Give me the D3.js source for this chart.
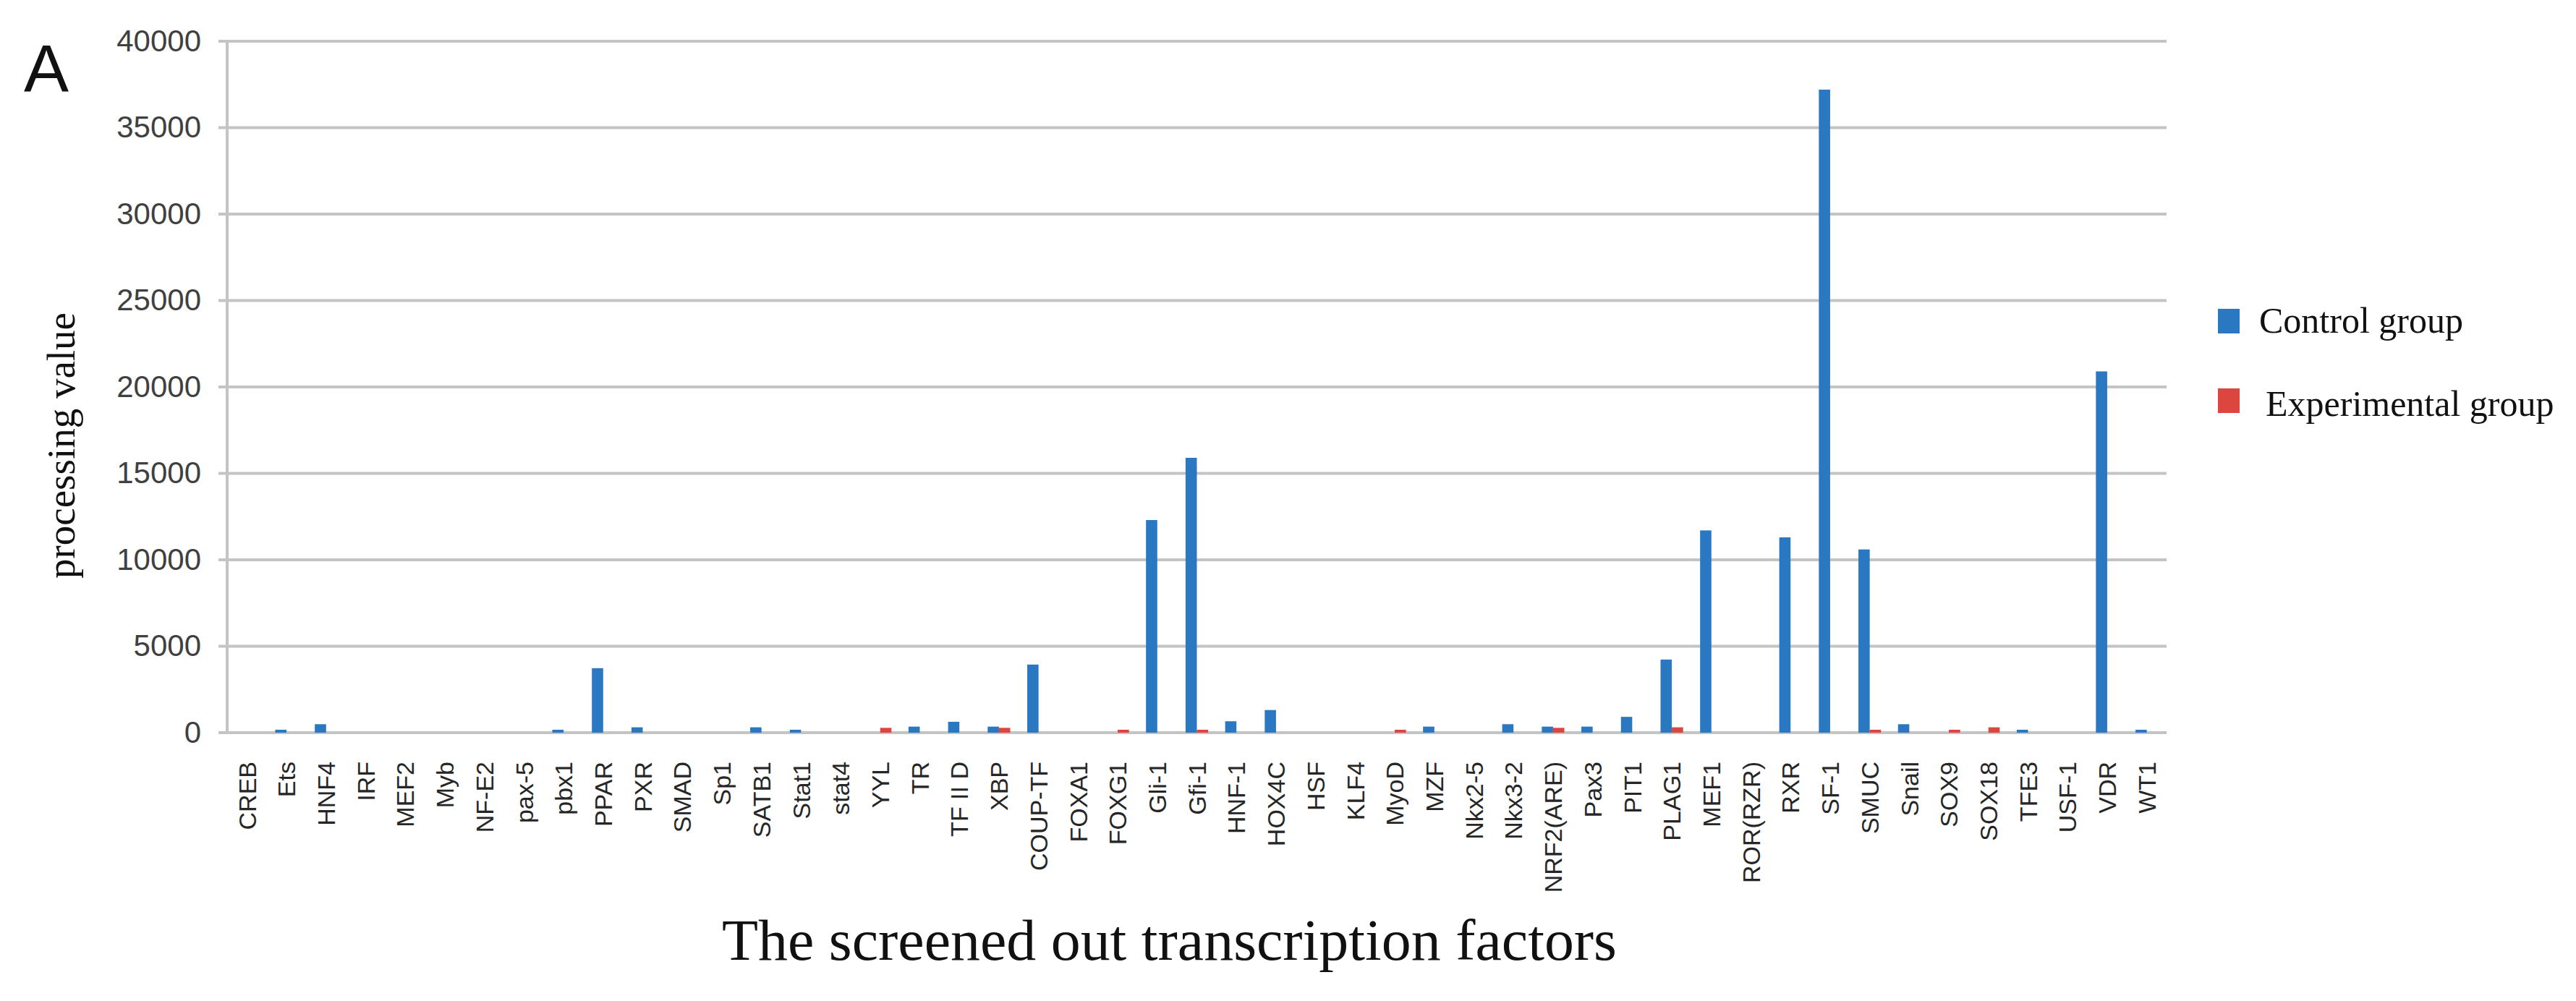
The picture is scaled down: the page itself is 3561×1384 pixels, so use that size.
<!DOCTYPE html>
<html lang="en">
<head>
    <meta charset="UTF-8">
    <title>Screened out transcription factors</title>
    <script src="https://d3js.org/d3.v7.min.js"></script>
    <style>
        body { margin: 0; background: #fff; }
    </style>
</head>
<body>
    <div id="chart"></div>

    <script>
        // Data
        const categories = ["CREB", "Ets", "HNF4", "IRF", "MEF2", "Myb", "NF-E2", "pax-5", "pbx1", "PPAR",
            "PXR", "SMAD", "Sp1", "SATB1", "Stat1", "stat4", "YYL", "TR", "TF II D", "XBP",
            "COUP-TF", "FOXA1", "FOXG1", "Gli-1", "Gfi-1", "HNF-1", "HOX4C", "HSF", "KLF4", "MyoD",
            "MZF", "Nkx2-5", "Nkx3-2", "NRF2(ARE)", "Pax3", "PIT1", "PLAG1", "MEF1", "ROR(RZR)", "RXR",
            "SF-1", "SMUC", "Snail", "SOX9", "SOX18", "TFE3", "USF-1", "VDR", "WT1"];

        const control = [0, 170, 490, 0, 0, 0, 0, 0, 170, 3730,
            310, 0, 0, 310, 170, 0, 0, 350, 630, 350,
            3940, 0, 0, 12300, 15900, 660, 1310, 0, 0, 0,
            350, 0, 490, 350, 350, 915, 4230, 11700, 0, 11300,
            37200, 10600, 490, 0, 0, 170, 0, 20900, 170];

        const experimental = [0, 0, 0, 0, 0, 0, 0, 0, 0, 0,
            0, 0, 0, 0, 0, 0, 280, 0, 0, 280,
            0, 0, 170, 0, 170, 0, 0, 0, 0, 170,
            0, 0, 0, 280, 0, 0, 310, 0, 0, 0,
            0, 170, 0, 170, 310, 0, 0, 0, 0];

        const seriesNames = ["Control  group", "Experimental group"];
        const yTicks = [0, 5000, 10000, 15000, 20000, 25000, 30000, 35000, 40000];

        const width = 3561, height = 1384;
        const plot = { left: 314, right: 2995, top: 57, bottom: 1013 };
        const colors = ["#2b78c2", "#dc463f"];

        const svg = d3.select("#chart")
            .append("svg")
            .attr("width", width)
            .attr("height", height)
            .style("font-family", "'Liberation Sans', Arial, sans-serif");

        svg.append("rect").attr("width", width).attr("height", height).attr("fill", "#fff");

        const y = d3.scaleLinear()
            .domain([0, 40000])
            .range([plot.bottom, plot.top]);

        const x0 = d3.scaleBand()
            .domain(categories)
            .range([plot.left, plot.right])
            .paddingInner(0.43)
            .paddingOuter(0.215);

        const x1 = d3.scaleBand()
            .domain([0, 1])
            .range([0, x0.bandwidth()]);

        // Horizontal gridlines
        svg.append("g")
            .selectAll("line")
            .data(yTicks)
            .join("line")
            .attr("x1", plot.left - 12)
            .attr("x2", plot.right)
            .attr("y1", d => y(d))
            .attr("y2", d => y(d))
            .attr("stroke", "#c4c4c4")
            .attr("stroke-width", 4);

        // Vertical axis line
        svg.append("line")
            .attr("x1", plot.left).attr("x2", plot.left)
            .attr("y1", plot.top).attr("y2", plot.bottom)
            .attr("stroke", "#c4c4c4")
            .attr("stroke-width", 4);

        // Y tick labels
        const yAxis = svg.append("g")
            .attr("transform", `translate(${plot.left},0)`)
            .call(d3.axisLeft(y).tickValues(yTicks).tickSize(0).tickPadding(36).tickFormat(d3.format("d")));
        yAxis.select(".domain").remove();
        yAxis.selectAll("text")
            .style("font-size", "42px")
            .style("font-family", "'Liberation Sans', Arial, sans-serif")
            .attr("fill", "#404040");

        // Bars
        const groups = svg.append("g")
            .selectAll("g")
            .data(categories.map((c, i) => ({ name: c, values: [control[i], experimental[i]] })))
            .join("g")
            .attr("transform", d => `translate(${x0(d.name)},0)`);

        groups.selectAll("rect")
            .data(d => d.values.map((v, k) => ({ k, v })).filter(e => e.v > 0))
            .join("rect")
            .attr("x", e => x1(e.k))
            .attr("width", x1.bandwidth())
            .attr("y", e => y(e.v))
            .attr("height", e => y(0) - y(e.v))
            .attr("fill", e => colors[e.k]);

        // X tick labels, rotated
        const xAxis = svg.append("g")
            .attr("transform", `translate(0,${plot.bottom})`)
            .call(d3.axisBottom(x0).tickSize(0));
        xAxis.select(".domain").remove();
        xAxis.selectAll("text")
            .attr("transform", "rotate(-90)")
            .attr("x", -40)
            .attr("y", 0)
            .attr("dy", "0.36em")
            .style("text-anchor", "end")
            .style("font-size", "34px")
            .style("font-family", "'Liberation Sans', Arial, sans-serif")
            .attr("fill", "#262626");

        // Axis titles
        svg.append("text")
            .attr("transform", "translate(103,616) rotate(-90)")
            .attr("text-anchor", "middle")
            .style("font-family", "'Liberation Serif', 'Times New Roman', serif")
            .style("font-size", "55px")
            .attr("fill", "#111")
            .text("processing value");

        svg.append("text")
            .attr("x", 998)
            .attr("y", 1327)
            .attr("textLength", 1237)
            .attr("lengthAdjust", "spacingAndGlyphs")
            .style("font-family", "'Liberation Serif', 'Times New Roman', serif")
            .style("font-size", "80px")
            .attr("fill", "#111")
            .text("The screened  out transcription factors");

        // Panel letter
        svg.append("text")
            .attr("x", 33)
            .attr("y", 127)
            .style("font-size", "93px")
            .attr("fill", "#111")
            .text("A");

        // Legend
        const legend = svg.append("g")
            .selectAll("g")
            .data(seriesNames)
            .join("g")
            .attr("transform", (d, i) => `translate(3066,${i === 0 ? 427 : 537})`);

        legend.append("rect")
            .attr("width", 30)
            .attr("height", 34)
            .attr("fill", (d, i) => colors[i]);

        legend.append("text")
            .attr("x", (d, i) => i === 0 ? 57 : 66)
            .attr("y", (d, i) => i === 0 ? 33 : 38)
            .style("font-family", "'Liberation Serif', 'Times New Roman', serif")
            .style("font-size", "50px")
            .attr("fill", "#111")
            .text(d => d);
    </script>
</body>
</html>
